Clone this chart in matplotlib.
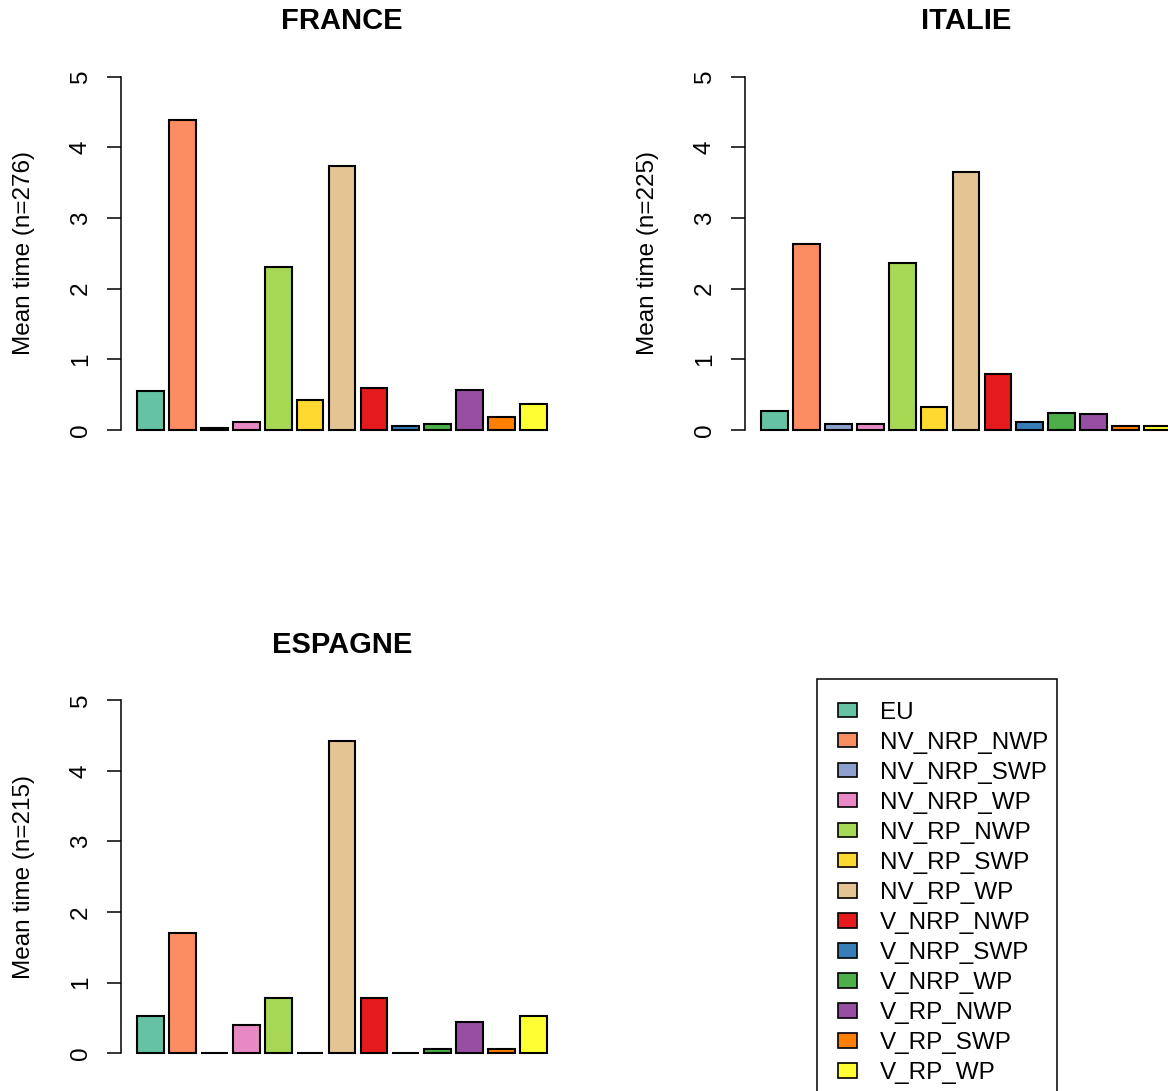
import matplotlib
matplotlib.use("Agg")
import matplotlib.pyplot as plt
from matplotlib.patches import Patch, Rectangle

plt.rcParams['font.family'] = ['Liberation Sans', 'DejaVu Sans']

# categories and colours (Set2 for NV / EU, Set1 for V)
categories = ['EU', 'NV_NRP_NWP', 'NV_NRP_SWP', 'NV_NRP_WP', 'NV_RP_NWP',
              'NV_RP_SWP', 'NV_RP_WP', 'V_NRP_NWP', 'V_NRP_SWP', 'V_NRP_WP',
              'V_RP_NWP', 'V_RP_SWP', 'V_RP_WP']
colors = ['#66C2A5', '#FC8D62', '#8DA0CB', '#E78AC3', '#A6D854', '#FFD92F',
          '#E5C494', '#E41A1C', '#377EB8', '#4DAF4A', '#984EA3', '#FF7F00',
          '#FFFF33']

# mean times
france = [0.55, 4.39, 0.03, 0.11, 2.31, 0.42, 3.74, 0.60, 0.06, 0.08, 0.56, 0.19, 0.37]
italie = [0.27, 2.63, 0.085, 0.085, 2.37, 0.32, 3.65, 0.79, 0.11, 0.245, 0.22, 0.06, 0.06]
espagne = [0.53, 1.70, 0.0, 0.40, 0.79, 0.0, 4.42, 0.79, 0.0, 0.06, 0.45, 0.06, 0.53]

titles = ['FRANCE', 'ITALIE', 'ESPAGNE']
ylabels = ['Mean time (n=276)', 'Mean time (n=225)', 'Mean time (n=215)']
yticks = [0, 1, 2, 3, 4, 5]

W, H = 1168, 1091
fig = plt.figure(figsize=(W / 100, H / 100), dpi=100)


def px_axes(left, top, width, height):
    return fig.add_axes([left / W, 1 - (top + height) / H, width / W, height / H])


def barpanel(ax, values, title, ylabel):
    # R barplot style: width 1, space 0.2
    xs = [0.2 + 1.2 * i for i in range(len(values))]
    ax.bar(xs, values, width=1, align='edge', color=colors,
           edgecolor='black', linewidth=1.5)
    lo, hi = 0.2, 0.2 + 1.2 * (len(values) - 1) + 1
    pad = (hi - lo) * 0.04
    ax.set_xlim(lo - pad, hi + pad)
    ax.set_ylim(-0.2, 5.2)
    for s in ['top', 'right', 'bottom']:
        ax.spines[s].set_visible(False)
    ax.spines['left'].set_bounds(0, 5)
    ax.spines['left'].set_linewidth(1.1)
    ax.set_xticks([])
    ax.set_yticks(yticks)
    ax.set_yticklabels([str(t) for t in yticks], rotation=90, va='center', fontsize=17.5)
    ax.tick_params(axis='y', length=10, width=1.1, pad=11)
    ax.set_title(title, fontsize=21, fontweight='bold', pad=24)
    ax.set_ylabel(ylabel, fontsize=17.5, va='center')
    ax.yaxis.set_label_coords(-97 / 442, 0.5)
    ax.patch.set_visible(False)


ax1 = px_axes(121, 62.6, 442, 381.5)
barpanel(ax1, france, titles[0], ylabels[0])
ax2 = px_axes(745, 62.6, 442, 381.5)
barpanel(ax2, italie, titles[1], ylabels[1])
ax3 = px_axes(121, 686, 442, 381.5)
barpanel(ax3, espagne, titles[2], ylabels[2])

handles = [Patch(facecolor=c, edgecolor='black', linewidth=1.2) for c in colors]
leg = fig.legend(handles, categories, loc='upper left',
                 bbox_to_anchor=(817 / W, 1 - 681 / H), fontsize=17.5,
                 frameon=False, borderaxespad=0, borderpad=0.85, handlelength=0.8,
                 handleheight=0.55, handletextpad=0.95, labelspacing=0.33)

# legend box like R's (runs off the bottom of the figure)
fig.patches.append(Rectangle((817 / W, -20 / H), 240 / W, (H - 679 + 20) / H,
                             transform=fig.transFigure, fill=False,
                             edgecolor='black', linewidth=1.1))

fig.savefig('out.png', dpi=100)
